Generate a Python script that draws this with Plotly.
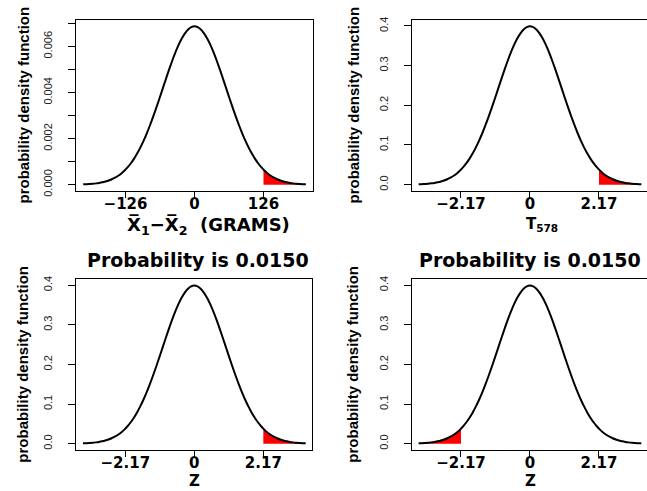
import plotly.graph_objects as go

W, H = 647, 491

# standard-normal grid (z units) and density
z_grid = [-3.5, -3.4, -3.3, -3.2, -3.1, -3.0, -2.9, -2.8, -2.7, -2.6, -2.5, -2.4, -2.3, -2.2, -2.1,
          -2.0, -1.9, -1.8, -1.7, -1.6, -1.5, -1.4, -1.3, -1.2, -1.1, -1.0, -0.9, -0.8, -0.7, -0.6,
          -0.5, -0.4, -0.3, -0.2, -0.1, 0.0, 0.1, 0.2, 0.3, 0.4, 0.5, 0.6, 0.7, 0.8, 0.9, 1.0,
          1.1, 1.2, 1.3, 1.4, 1.5, 1.6, 1.7, 1.8, 1.9, 2.0, 2.1, 2.2, 2.3, 2.4, 2.5, 2.6, 2.7,
          2.8, 2.9, 3.0, 3.1, 3.2, 3.3, 3.4, 3.5]
density = [0.000873, 0.001232, 0.001723, 0.002384, 0.003267, 0.004432, 0.005953, 0.007915,
           0.010421, 0.013583, 0.017528, 0.022395, 0.028327, 0.035475, 0.043984, 0.053991,
           0.065616, 0.078950, 0.094049, 0.110921, 0.129518, 0.149727, 0.171369, 0.194186,
           0.217852, 0.241971, 0.266085, 0.289692, 0.312254, 0.333225, 0.352065, 0.368270,
           0.381388, 0.391043, 0.396953, 0.398942, 0.396953, 0.391043, 0.381388, 0.368270,
           0.352065, 0.333225, 0.312254, 0.289692, 0.266085, 0.241971, 0.217852, 0.194186,
           0.171369, 0.149727, 0.129518, 0.110921, 0.094049, 0.078950, 0.065616, 0.053991,
           0.043984, 0.035475, 0.028327, 0.022395, 0.017528, 0.013583, 0.010421, 0.007915,
           0.005953, 0.004432, 0.003267, 0.002384, 0.001723, 0.001232, 0.000873]

upper_tail_z = [2.17, 2.2, 2.3, 2.4, 2.5, 2.6, 2.7, 2.8, 2.9, 3.0, 3.1, 3.2, 3.3, 3.4, 3.5]
upper_tail_density = [0.037875, 0.035475, 0.028327, 0.022395, 0.017528, 0.013583, 0.010421,
                      0.007915, 0.005953, 0.004432, 0.003267, 0.002384, 0.001723, 0.001232, 0.000873]
lower_tail_z = [-3.5, -3.4, -3.3, -3.2, -3.1, -3.0, -2.9, -2.8, -2.7, -2.6, -2.5, -2.4, -2.3, -2.2, -2.17]
lower_tail_density = [0.000873, 0.001232, 0.001723, 0.002384, 0.003267, 0.004432, 0.005953,
                      0.007915, 0.010421, 0.013583, 0.017528, 0.022395, 0.028327, 0.035475, 0.037875]

sd_grams = 58.06          # standard error of X1bar - X2bar in grams
z_ticks = [-2.17, 0, 2.17]
z_ticktext = ["\u22122.17", "0", "2.17"]
gram_ticks = [-126, 0, 126]
gram_ticktext = ["\u2212126", "0", "126"]
gram_yticks = [0.000, 0.002, 0.004, 0.006]
gram_yticktext = ["0.000", "0.002", "0.004", "0.006"]
gram_minor_step = 0.001
z_yticks = [0.0, 0.1, 0.2, 0.3, 0.4]
z_yticktext = ["0.0", "0.1", "0.2", "0.3", "0.4"]

panel_titles = ["", "", "Probability is 0.0150", "Probability is 0.0150"]
x_titles = ["X\u0305<sub>1</sub>\u2212X\u0305<sub>2</sub>\u00a0\u00a0(GRAMS)",
            "T<sub>578</sub>", "Z", "Z"]
y_title = "probability density function"

# ---- layout helpers (pixel -> paper) ----
def px(x):
    return x / W

def py(y):
    return 1 - y / H

BOLD = "DejaVu Sans"
NARROW = "Liberation Sans"

panels = [
    # box left, right, top, bottom (px)
    dict(l=76, r=313, t=20, b=191),
    dict(l=412, r=647, t=20, b=191),
    dict(l=76, r=312.3, t=279.3, b=450),
    dict(l=412, r=647, t=279.3, b=450),
]

fig = go.Figure()

grams_x = [z * sd_grams for z in z_grid]
grams_y = [d / sd_grams for d in density]
grams_tail_x = [z * sd_grams for z in upper_tail_z]
grams_tail_y = [d / sd_grams for d in upper_tail_density]

curves = [
    (grams_x, grams_y, grams_tail_x, grams_tail_y),
    (z_grid, density, upper_tail_z, upper_tail_density),
    (z_grid, density, upper_tail_z, upper_tail_density),
    (z_grid, density, lower_tail_z, lower_tail_density),
]

for i, (cx, cy, tx, ty) in enumerate(curves):
    n = "" if i == 0 else str(i + 1)
    fig.add_trace(go.Scatter(x=tx, y=ty, mode="lines", fill="tozeroy",
                             fillcolor="#FF0000", line=dict(color="#FF0000", width=0.5),
                             xaxis="x" + n, yaxis="y" + n, hoverinfo="skip"))
    fig.add_trace(go.Scatter(x=cx, y=cy, mode="lines", line=dict(color="black", width=2, shape="spline"),
                             xaxis="x" + n, yaxis="y" + n, hoverinfo="skip"))

layout = dict(width=W, height=H, margin=dict(l=0, r=0, t=0, b=0, autoexpand=False),
              paper_bgcolor="white", plot_bgcolor="white", showlegend=False)

x_ranges = [[-216.4, 216.4], [-3.71, 3.68], [-3.72, 3.71], [-3.71, 3.68]]
y_ranges = [[-0.000275, 0.007146], [-0.016, 0.4149], [-0.016, 0.4149], [-0.016, 0.4149]]

for i, p in enumerate(panels):
    n = "" if i == 0 else str(i + 1)
    xa = dict(domain=[px(p["l"]), px(p["r"])], range=x_ranges[i], anchor="y" + n,
              tickmode="array",
              tickvals=gram_ticks if i == 0 else z_ticks,
              ticktext=gram_ticktext if i == 0 else z_ticktext,
              ticks="outside", ticklen=6, tickwidth=1, tickcolor="black",
              showline=True, linecolor="black", linewidth=1, mirror=True,
              showgrid=False, zeroline=False, fixedrange=True, automargin=False,
              ticklabelstandoff=-7,
              tickfont=dict(family=BOLD, size=15, color="black", weight="bold"))
    ya = dict(domain=[py(p["b"]), py(p["t"])], range=y_ranges[i], anchor="x" + n,
              tickmode="array",
              tickvals=gram_yticks if i == 0 else z_yticks,
              ticktext=gram_yticktext if i == 0 else z_yticktext,
              tickangle=-90,
              ticks="outside", ticklen=7, tickwidth=1, tickcolor="black",
              showline=True, linecolor="black", linewidth=1, mirror=(i % 2 == 0),
              showgrid=False, zeroline=False, fixedrange=True, automargin=False,
              ticklabelstandoff=12,
              tickfont=dict(family=NARROW, size=11, color="#222"))
    if i == 0:
        ya["minor"] = dict(tick0=0, dtick=gram_minor_step, ticks="outside", ticklen=7,
                           tickwidth=1, tickcolor="black", showgrid=False)
    layout["xaxis" + n] = xa
    layout["yaxis" + n] = ya

annotations = []
ytitle_x = [23, 353, 23, 353]
xtitle_pos = [(208, 226), (542, 224), (194.3, 481), (530, 481)]
title_pos = [(197.5, 260), (529.7, 260), (197.5, 260), (529.7, 260)]
for i, p in enumerate(panels):
    cy = (p["t"] + p["b"]) / 2
    annotations.append(dict(text=y_title, textangle=-90, x=px(ytitle_x[i]), y=py(cy),
                            xref="paper", yref="paper", showarrow=False,
                            xanchor="center", yanchor="middle",
                            font=dict(family=NARROW, size=15, color="black", weight="bold")))
    annotations.append(dict(text=x_titles[i], x=px(xtitle_pos[i][0]), y=py(xtitle_pos[i][1]),
                            xref="paper", yref="paper", showarrow=False,
                            xanchor="center", yanchor="middle",
                            font=dict(family=BOLD, size=18 if i == 0 else 15, color="black", weight="bold")))
    if panel_titles[i]:
        annotations.append(dict(text=panel_titles[i], x=px(title_pos[i][0]), y=py(title_pos[i][1]),
                                xref="paper", yref="paper", showarrow=False,
                                xanchor="center", yanchor="middle",
                                font=dict(family=BOLD, size=19, color="black", weight="bold")))
layout["annotations"] = annotations

fig.update_layout(**layout)
fig.write_html("out.html", config={"displayModeBar": False},
               post_script="document.body.style.margin='0';document.body.style.overflow='hidden';")
